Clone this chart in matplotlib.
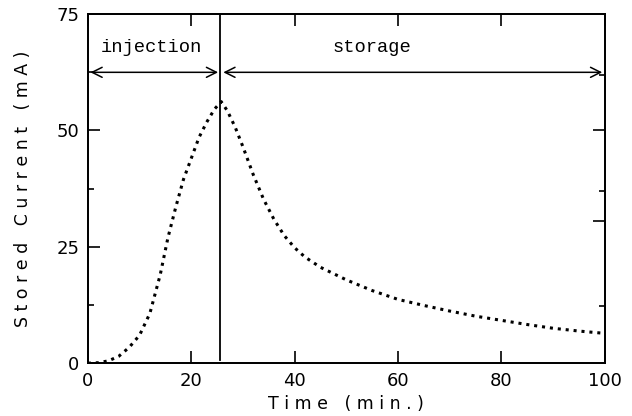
import matplotlib
matplotlib.use('Agg')
import matplotlib.pyplot as plt

# Datos: tiempo (min) y corriente almacenada (mA)
t_min = [0, 2, 4, 6, 8, 10, 12, 14, 15.5, 17, 18.5, 20, 21.5, 23, 24.5, 25.8,
         27, 28.5, 30, 32, 34, 36, 38, 40, 42, 45, 50, 55, 60, 65, 70, 75, 80,
         85, 90, 95, 100]
current = [0, 0.1, 0.5, 1.5, 3.4, 6.0, 10.7, 19.0, 27.0, 33.5, 39.5, 44.0, 48.5,
           51.8, 54.6, 56.2, 54.2, 50.7, 46.5, 40.5, 35.2, 30.9, 27.4, 24.8, 22.8,
           20.6, 17.9, 15.6, 13.7, 12.4, 11.2, 10.1, 9.2, 8.3, 7.5, 6.9, 6.4]

t_switch = 25.6      # fin de la inyeccion
arrow_y = 62.5
phase_labels = ['injection', 'storage']

xticks = [0, 20, 40, 60, 80, 100]
yticks = [0, 25, 50, 75]
yminor = [12.5, 37.5, 62.5]
right_major = [30.5, 50]
right_minor = [12.2, 37, 62]

num_font = ['Liberation Sans Narrow', 'DejaVu Sans']
mono_font = ['Liberation Mono', 'DejaVu Sans Mono']

fig = plt.figure(figsize=(6.32, 4.16), dpi=100)
ax = fig.add_axes([0.139, 0.127, 0.818, 0.839])

ax.plot(t_min, current, color='black', linestyle=(0, (1, 1.6)), linewidth=2.2)
ax.axvline(t_switch, ymin=0.01, ymax=1, color='black', linewidth=1.3)

# Flechas de las fases
ax.annotate('', xy=(0.5, arrow_y), xytext=(t_switch - 0.4, arrow_y),
            arrowprops=dict(arrowstyle='<->', color='black', lw=1.1,
                            mutation_scale=18, shrinkA=0, shrinkB=0))
ax.annotate('', xy=(t_switch + 0.6, arrow_y), xytext=(99.5, arrow_y),
            arrowprops=dict(arrowstyle='<->', color='black', lw=1.1,
                            mutation_scale=18, shrinkA=0, shrinkB=0))
ax.text(12.3, 67.8, phase_labels[0], ha='center', va='center',
        fontsize=13.5, family=mono_font)
ax.text(55, 67.8, phase_labels[1], ha='center', va='center',
        fontsize=13.5, family=mono_font)

ax.set_xlim(0, 100)
ax.set_ylim(0, 75)
ax.set_xticks(xticks)
ax.set_yticks(yticks)
ax.set_yticks(yminor, minor=True)
ax.tick_params(which='major', direction='in', length=8.5, width=1.2,
               top=True, labelsize=13, pad=6)
ax.tick_params(which='minor', direction='in', length=4.5, width=1.2)
for lab in ax.get_xticklabels() + ax.get_yticklabels():
    lab.set_family(num_font)

ax2 = ax.twinx()
ax2.set_ylim(0, 75)
ax2.set_yticks(right_major)
ax2.set_yticks(right_minor, minor=True)
ax2.tick_params(which='major', direction='in', length=8.5, width=1.2, labelright=False)
ax2.tick_params(which='minor', direction='in', length=4.5, width=1.2, labelright=False)

for a in (ax, ax2):
    for s in a.spines.values():
        s.set_linewidth(1.3)

ax.set_xlabel('T i m e   ( m i n . )', fontsize=12.5, family=num_font, labelpad=4)
ax.set_ylabel('S t o r e d   C u r r e n t   ( m A )', fontsize=12.5,
              family=num_font, labelpad=18)

fig.savefig('out.png', dpi=100)
